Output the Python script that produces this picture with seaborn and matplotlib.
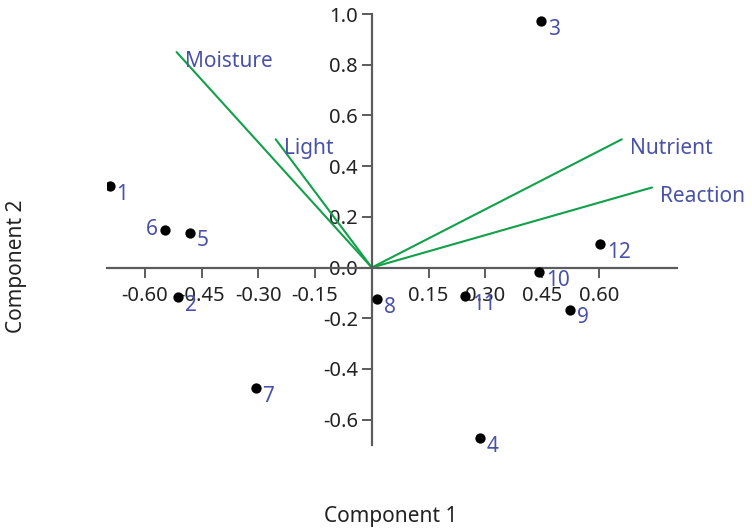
import numpy as np
import pandas as pd
import matplotlib
matplotlib.use("Agg")
import matplotlib.pyplot as plt
import seaborn as sns

# PCA scores of the 12 sites
sites = ['1', '2', '3', '4', '5', '6', '7', '8', '9', '10', '11', '12']
comp1 = [-0.693, -0.513, 0.447, 0.286, -0.481, -0.548, -0.307, 0.013, 0.524, 0.442, 0.246, 0.603]
comp2 = [0.320, -0.115, 0.972, -0.672, 0.138, 0.150, -0.474, -0.126, -0.166, -0.018, -0.111, 0.091]

# loadings of the environmental variables
variables = ['Moisture', 'Light', 'Nutrient', 'Reaction']
load1 = [-0.516, -0.254, 0.661, 0.741]
load2 = [0.850, 0.506, 0.506, 0.316]

xticks = [-0.60, -0.45, -0.30, -0.15, 0.15, 0.30, 0.45, 0.60]
yticks = [-0.6, -0.4, -0.2, 0.0, 0.2, 0.4, 0.6, 0.8, 1.0]

scores = pd.DataFrame({'site': sites, 'c1': comp1, 'c2': comp2})

sns.set_style("white")
plt.rcParams['font.family'] = ['Noto Sans', 'DejaVu Sans']
plt.rcParams['axes.unicode_minus'] = False

label_col = '#4a52a8'
line_col = '#12a04a'
axis_col = '#5c5c5c'
fs = 15

fig = plt.figure(figsize=(7.52, 5.30), dpi=100)
ax = fig.add_axes([0.1423, 0.1604, 0.758, 0.813])

# variable vectors
for name, vx, vy in zip(variables, load1, load2):
    ax.plot([0, vx], [0, vy], color=line_col, lw=1.5, zorder=2)
    ax.annotate(name, (vx, vy), xytext=(6, -6.5), textcoords='offset points',
                ha='left', va='center', color=label_col, fontsize=fs)

# site scores
sns.scatterplot(data=scores, x='c1', y='c2', color='black', s=55,
                edgecolor='black', linewidth=0, ax=ax, zorder=3)
for s, x, y in zip(sites, comp1, comp2):
    if s == '6':
        off, ha = (-5, 0), 'right'
    else:
        off, ha = (5, -6), 'left'
    ax.annotate(s, (x, y), xytext=off, textcoords='offset points',
                ha=ha, va='center', color=label_col, fontsize=fs)

ax.set_xlim(-0.70, 0.807)
ax.set_ylim(-0.70, 1.0)

for side in ['top', 'right']:
    ax.spines[side].set_visible(False)
for side in ['left', 'bottom']:
    ax.spines[side].set_position(('data', 0))
    ax.spines[side].set_color(axis_col)
    ax.spines[side].set_linewidth(1.6)

ax.set_xticks(xticks)
ax.set_xticklabels([f'{v:.2f}' for v in xticks])
ax.set_yticks(yticks)
ax.set_yticklabels([f'{v:.1f}' for v in yticks])
ax.tick_params(axis='both', direction='out', length=7, width=1.4, color=axis_col,
               labelsize=fs - 0.5, labelcolor='#222222', bottom=True, left=True)
ax.tick_params(axis='x', pad=6)
ax.tick_params(axis='y', pad=3)

ax.set_xlabel('')
ax.set_ylabel('')
fig.text(0.519, 0.025, 'Component 1', ha='center', va='center', fontsize=fs, color='#222222')
fig.text(0.022, 0.497, 'Component 2', ha='center', va='center', rotation=90,
         fontsize=fs, color='#222222')

fig.savefig('out.png', dpi=100)
